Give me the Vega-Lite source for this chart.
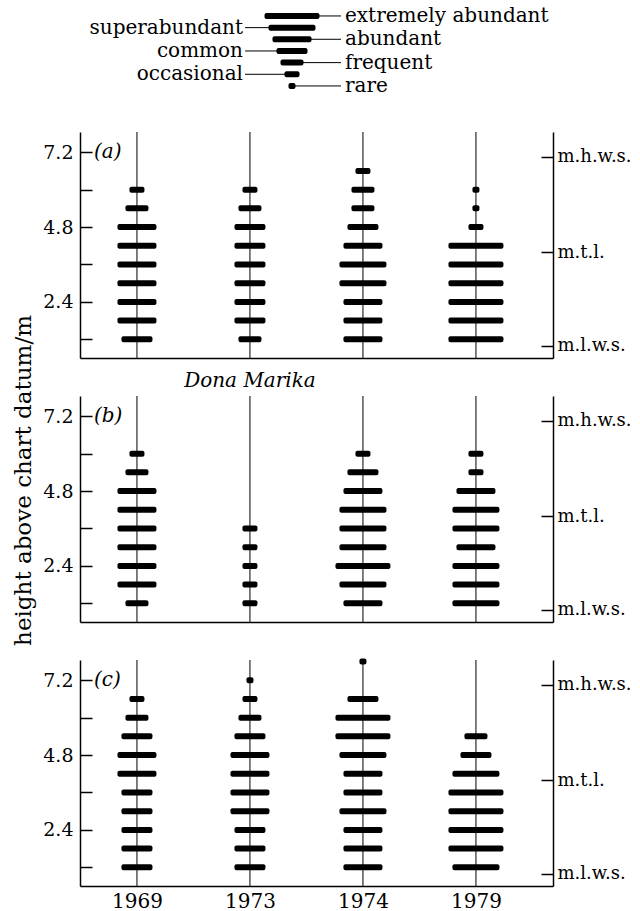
{
  "$schema": "https://vega.github.io/schema/vega-lite/v6.json",
  "padding": {"left": 12, "top": 5, "right": 0, "bottom": 0},
  "bounds": "flush",
  "spacing": 38,
  "config": {
    "view": {"stroke": null},
    "font": "DejaVu Serif",
    "text": {"font": "DejaVu Serif", "color": "black"},
    "axis": {"labelFont": "DejaVu Serif", "titleFont": "DejaVu Serif", "labelColor": "black", "titleColor": "black", "domainColor": "black", "tickColor": "black", "grid": false, "domainWidth": 1.5, "tickWidth": 1.5}
  },
  "datasets": {
    "years": [{"year": "1969"}, {"year": "1973"}, {"year": "1974"}, {"year": "1979"}],
    "legend": [
      {"level": 7, "label": "extremely abundant", "side": "right"},
      {"level": 6, "label": "superabundant", "side": "left"},
      {"level": 5, "label": "abundant", "side": "right"},
      {"level": 4, "label": "common", "side": "left"},
      {"level": 3, "label": "frequent", "side": "right"},
      {"level": 2, "label": "occasional", "side": "left"},
      {"level": 1, "label": "rare", "side": "right"}
    ],
    "obs": [
      {"panel": "a", "year": "1969", "height": 6.0, "level": 2},
      {"panel": "a", "year": "1969", "height": 5.4, "level": 3},
      {"panel": "a", "year": "1969", "height": 4.8, "level": 5},
      {"panel": "a", "year": "1969", "height": 4.2, "level": 5},
      {"panel": "a", "year": "1969", "height": 3.6, "level": 5},
      {"panel": "a", "year": "1969", "height": 3.0, "level": 5},
      {"panel": "a", "year": "1969", "height": 2.4, "level": 5},
      {"panel": "a", "year": "1969", "height": 1.8, "level": 5},
      {"panel": "a", "year": "1969", "height": 1.2, "level": 4},
      {"panel": "a", "year": "1973", "height": 6.0, "level": 2},
      {"panel": "a", "year": "1973", "height": 5.4, "level": 3},
      {"panel": "a", "year": "1973", "height": 4.8, "level": 4},
      {"panel": "a", "year": "1973", "height": 4.2, "level": 4},
      {"panel": "a", "year": "1973", "height": 3.6, "level": 4},
      {"panel": "a", "year": "1973", "height": 3.0, "level": 4},
      {"panel": "a", "year": "1973", "height": 2.4, "level": 4},
      {"panel": "a", "year": "1973", "height": 1.8, "level": 4},
      {"panel": "a", "year": "1973", "height": 1.2, "level": 3},
      {"panel": "a", "year": "1974", "height": 6.6, "level": 2},
      {"panel": "a", "year": "1974", "height": 6.0, "level": 3},
      {"panel": "a", "year": "1974", "height": 5.4, "level": 3},
      {"panel": "a", "year": "1974", "height": 4.8, "level": 4},
      {"panel": "a", "year": "1974", "height": 4.2, "level": 5},
      {"panel": "a", "year": "1974", "height": 3.6, "level": 6},
      {"panel": "a", "year": "1974", "height": 3.0, "level": 6},
      {"panel": "a", "year": "1974", "height": 2.4, "level": 5},
      {"panel": "a", "year": "1974", "height": 1.8, "level": 5},
      {"panel": "a", "year": "1974", "height": 1.2, "level": 5},
      {"panel": "a", "year": "1979", "height": 6.0, "level": 1},
      {"panel": "a", "year": "1979", "height": 5.4, "level": 1},
      {"panel": "a", "year": "1979", "height": 4.8, "level": 2},
      {"panel": "a", "year": "1979", "height": 4.2, "level": 7},
      {"panel": "a", "year": "1979", "height": 3.6, "level": 7},
      {"panel": "a", "year": "1979", "height": 3.0, "level": 7},
      {"panel": "a", "year": "1979", "height": 2.4, "level": 7},
      {"panel": "a", "year": "1979", "height": 1.8, "level": 7},
      {"panel": "a", "year": "1979", "height": 1.2, "level": 7},
      {"panel": "b", "year": "1969", "height": 6.0, "level": 2},
      {"panel": "b", "year": "1969", "height": 5.4, "level": 3},
      {"panel": "b", "year": "1969", "height": 4.8, "level": 5},
      {"panel": "b", "year": "1969", "height": 4.2, "level": 5},
      {"panel": "b", "year": "1969", "height": 3.6, "level": 5},
      {"panel": "b", "year": "1969", "height": 3.0, "level": 5},
      {"panel": "b", "year": "1969", "height": 2.4, "level": 5},
      {"panel": "b", "year": "1969", "height": 1.8, "level": 5},
      {"panel": "b", "year": "1969", "height": 1.2, "level": 3},
      {"panel": "b", "year": "1973", "height": 3.6, "level": 2},
      {"panel": "b", "year": "1973", "height": 3.0, "level": 2},
      {"panel": "b", "year": "1973", "height": 2.4, "level": 2},
      {"panel": "b", "year": "1973", "height": 1.8, "level": 2},
      {"panel": "b", "year": "1973", "height": 1.2, "level": 2},
      {"panel": "b", "year": "1974", "height": 6.0, "level": 2},
      {"panel": "b", "year": "1974", "height": 5.4, "level": 4},
      {"panel": "b", "year": "1974", "height": 4.8, "level": 5},
      {"panel": "b", "year": "1974", "height": 4.2, "level": 6},
      {"panel": "b", "year": "1974", "height": 3.6, "level": 6},
      {"panel": "b", "year": "1974", "height": 3.0, "level": 6},
      {"panel": "b", "year": "1974", "height": 2.4, "level": 7},
      {"panel": "b", "year": "1974", "height": 1.8, "level": 6},
      {"panel": "b", "year": "1974", "height": 1.2, "level": 5},
      {"panel": "b", "year": "1979", "height": 6.0, "level": 2},
      {"panel": "b", "year": "1979", "height": 5.4, "level": 2},
      {"panel": "b", "year": "1979", "height": 4.8, "level": 5},
      {"panel": "b", "year": "1979", "height": 4.2, "level": 6},
      {"panel": "b", "year": "1979", "height": 3.6, "level": 6},
      {"panel": "b", "year": "1979", "height": 3.0, "level": 5},
      {"panel": "b", "year": "1979", "height": 2.4, "level": 6},
      {"panel": "b", "year": "1979", "height": 1.8, "level": 6},
      {"panel": "b", "year": "1979", "height": 1.2, "level": 6},
      {"panel": "c", "year": "1969", "height": 6.6, "level": 2},
      {"panel": "c", "year": "1969", "height": 6.0, "level": 3},
      {"panel": "c", "year": "1969", "height": 5.4, "level": 4},
      {"panel": "c", "year": "1969", "height": 4.8, "level": 5},
      {"panel": "c", "year": "1969", "height": 4.2, "level": 5},
      {"panel": "c", "year": "1969", "height": 3.6, "level": 4},
      {"panel": "c", "year": "1969", "height": 3.0, "level": 4},
      {"panel": "c", "year": "1969", "height": 2.4, "level": 4},
      {"panel": "c", "year": "1969", "height": 1.8, "level": 4},
      {"panel": "c", "year": "1969", "height": 1.2, "level": 4},
      {"panel": "c", "year": "1973", "height": 7.2, "level": 1},
      {"panel": "c", "year": "1973", "height": 6.6, "level": 2},
      {"panel": "c", "year": "1973", "height": 6.0, "level": 3},
      {"panel": "c", "year": "1973", "height": 5.4, "level": 4},
      {"panel": "c", "year": "1973", "height": 4.8, "level": 5},
      {"panel": "c", "year": "1973", "height": 4.2, "level": 5},
      {"panel": "c", "year": "1973", "height": 3.6, "level": 5},
      {"panel": "c", "year": "1973", "height": 3.0, "level": 5},
      {"panel": "c", "year": "1973", "height": 2.4, "level": 4},
      {"panel": "c", "year": "1973", "height": 1.8, "level": 4},
      {"panel": "c", "year": "1973", "height": 1.2, "level": 4},
      {"panel": "c", "year": "1974", "height": 7.8, "level": 1},
      {"panel": "c", "year": "1974", "height": 6.6, "level": 4},
      {"panel": "c", "year": "1974", "height": 6.0, "level": 7},
      {"panel": "c", "year": "1974", "height": 5.4, "level": 7},
      {"panel": "c", "year": "1974", "height": 4.8, "level": 6},
      {"panel": "c", "year": "1974", "height": 4.2, "level": 5},
      {"panel": "c", "year": "1974", "height": 3.6, "level": 5},
      {"panel": "c", "year": "1974", "height": 3.0, "level": 6},
      {"panel": "c", "year": "1974", "height": 2.4, "level": 5},
      {"panel": "c", "year": "1974", "height": 1.8, "level": 5},
      {"panel": "c", "year": "1974", "height": 1.2, "level": 5},
      {"panel": "c", "year": "1979", "height": 5.4, "level": 3},
      {"panel": "c", "year": "1979", "height": 4.8, "level": 4},
      {"panel": "c", "year": "1979", "height": 4.2, "level": 6},
      {"panel": "c", "year": "1979", "height": 3.6, "level": 7},
      {"panel": "c", "year": "1979", "height": 3.0, "level": 7},
      {"panel": "c", "year": "1979", "height": 2.4, "level": 7},
      {"panel": "c", "year": "1979", "height": 1.8, "level": 7},
      {"panel": "c", "year": "1979", "height": 1.2, "level": 6}
    ]
  },
  "vconcat": [
    {
      "width": 424,
      "height": 89,
      "data": {"name": "legend"},
      "layer": [
        {
          "transform": [{"filter": "datum.side == 'right'"}],
          "mark": {"type": "rule", "color": "black", "strokeWidth": 1},
          "encoding": {
            "y": {"field": "level", "type": "quantitative", "scale": {"domain": [0.31, 7.94], "nice": false, "zero": false}, "axis": null},
            "x": {"datum": 0, "type": "quantitative", "scale": {"domain": [-4.24, 4.24], "nice": false, "zero": false}, "axis": null},
            "x2": {"datum": 0.98}
          }
        },
        {
          "transform": [{"filter": "datum.side == 'left'"}],
          "mark": {"type": "rule", "color": "black", "strokeWidth": 1},
          "encoding": {
            "y": {"field": "level", "type": "quantitative", "axis": null},
            "x": {"datum": -0.94, "type": "quantitative", "axis": null},
            "x2": {"datum": 0}
          }
        },
        {
          "mark": {"type": "tick", "orient": "horizontal", "thickness": 6, "cornerRadius": 2, "color": "black", "opacity": 1},
          "encoding": {
            "y": {"field": "level", "type": "quantitative", "axis": null},
            "x": {"datum": 0, "type": "quantitative", "axis": null},
            "size": {"field": "level", "type": "quantitative", "scale": {"domain": [1, 7], "range": [7, 55]}, "legend": null}
          }
        },
        {
          "transform": [{"filter": "datum.side == 'right'"}],
          "mark": {"type": "text", "align": "left", "baseline": "middle", "fontSize": 20},
          "encoding": {
            "y": {"field": "level", "type": "quantitative", "axis": null},
            "x": {"datum": 1.06, "type": "quantitative", "axis": null},
            "text": {"field": "label"}
          }
        },
        {
          "transform": [{"filter": "datum.side == 'left'"}],
          "mark": {"type": "text", "align": "right", "baseline": "middle", "fontSize": 20},
          "encoding": {
            "y": {"field": "level", "type": "quantitative", "axis": null},
            "x": {"datum": -0.98, "type": "quantitative", "axis": null},
            "text": {"field": "label"}
          }
        }
      ]
    },
    {
      "width": 473,
      "height": 226,
      "layer": [
        {
          "data": {"name": "years"},
          "mark": {"type": "rule", "color": "black", "strokeWidth": 1},
          "encoding": {
            "x": {"field": "year", "type": "ordinal", "scale": {"type": "point", "padding": 0.593, "align": 0.425},
                  "axis": {"title": null, "labels": false, "ticks": false, "domainWidth": 1.5}}
          }
        },
        {
          "data": {"name": "obs"},
          "transform": [{"filter": "datum.panel == 'a'"}],
          "mark": {"type": "tick", "orient": "horizontal", "thickness": 6, "cornerRadius": 2, "color": "black", "opacity": 1},
          "encoding": {
            "x": {"field": "year", "type": "ordinal"},
            "y": {"field": "height", "type": "quantitative", "scale": {"domain": [0.6, 7.85], "nice": false, "zero": false},
                  "axis": {"title": null, "values": [1.2, 2.4, 3.6, 4.8, 6.0, 7.2], "labelExpr": "(datum.value == 2.4 || datum.value == 4.8 || datum.value == 7.2) ? format(datum.value, '.1f') : ''", "tickSize": -12, "labelPadding": 19, "labelFontSize": 19}},
            "size": {"field": "level", "type": "quantitative", "scale": {"domain": [1, 7], "range": [7, 55]}, "legend": null}
          }
        },
        {
          "data": {"values": [{"label": "(a)"}]},
          "mark": {"type": "text", "align": "left", "baseline": "middle", "fontSize": 20, "fontStyle": "italic", "dx": -43},
          "encoding": {
            "x": {"datum": "1969", "type": "ordinal"},
            "y": {"datum": 7.2, "type": "quantitative", "axis": null},
            "text": {"field": "label"}
          }
        },
        {
          "data": {"values": [{"label": "tide"}]},
          "mark": {"type": "point", "opacity": 0},
          "encoding": {
            "y": {"datum": 4.0, "type": "quantitative",
                  "axis": {"orient": "right", "title": null, "values": [1.0, 4.0, 7.05], "labelExpr": "datum.value < 2 ? 'm.l.w.s.' : datum.value < 5 ? 'm.t.l.' : 'm.h.w.s.'", "tickSize": -12, "labelPadding": 16, "labelFontSize": 18}}
          }
        }
      ],
      "resolve": {"axis": {"y": "independent"}}
    },
    {
      "width": 473,
      "height": 226,
      "layer": [
        {
          "data": {"name": "years"},
          "mark": {"type": "rule", "color": "black", "strokeWidth": 1},
          "encoding": {
            "x": {"field": "year", "type": "ordinal", "scale": {"type": "point", "padding": 0.593, "align": 0.425},
                  "axis": {"title": null, "labels": false, "ticks": false, "domainWidth": 1.5}}
          }
        },
        {
          "data": {"name": "obs"},
          "transform": [{"filter": "datum.panel == 'b'"}],
          "mark": {"type": "tick", "orient": "horizontal", "thickness": 6, "cornerRadius": 2, "color": "black", "opacity": 1},
          "encoding": {
            "x": {"field": "year", "type": "ordinal"},
            "y": {"field": "height", "type": "quantitative", "scale": {"domain": [0.6, 7.85], "nice": false, "zero": false},
                  "axis": {"title": "height above chart datum/m", "titleFontSize": 23, "titleFontWeight": "normal", "titlePadding": 7, "titleY": 84, "values": [1.2, 2.4, 3.6, 4.8, 6.0, 7.2], "labelExpr": "(datum.value == 2.4 || datum.value == 4.8 || datum.value == 7.2) ? format(datum.value, '.1f') : ''", "tickSize": -12, "labelPadding": 19, "labelFontSize": 19}},
            "size": {"field": "level", "type": "quantitative", "scale": {"domain": [1, 7], "range": [7, 55]}, "legend": null}
          }
        },
        {
          "data": {"values": [{"label": "(b)"}]},
          "mark": {"type": "text", "align": "left", "baseline": "middle", "fontSize": 20, "fontStyle": "italic", "dx": -43},
          "encoding": {
            "x": {"datum": "1969", "type": "ordinal"},
            "y": {"datum": 7.2, "type": "quantitative", "axis": null},
            "text": {"field": "label"}
          }
        },
        {
          "data": {"values": [{"label": "Dona Marika"}]},
          "mark": {"type": "text", "align": "center", "baseline": "middle", "fontSize": 20, "fontStyle": "italic"},
          "encoding": {
            "x": {"datum": "1973", "type": "ordinal"},
            "y": {"datum": 8.33, "type": "quantitative", "axis": null},
            "text": {"field": "label"}
          }
        },
        {
          "data": {"values": [{"label": "tide"}]},
          "mark": {"type": "point", "opacity": 0},
          "encoding": {
            "y": {"datum": 4.0, "type": "quantitative",
                  "axis": {"orient": "right", "title": null, "values": [1.0, 4.0, 7.05], "labelExpr": "datum.value < 2 ? 'm.l.w.s.' : datum.value < 5 ? 'm.t.l.' : 'm.h.w.s.'", "tickSize": -12, "labelPadding": 16, "labelFontSize": 18}}
          }
        }
      ],
      "resolve": {"axis": {"y": "independent"}}
    },
    {
      "width": 473,
      "height": 226,
      "layer": [
        {
          "data": {"name": "years"},
          "mark": {"type": "rule", "color": "black", "strokeWidth": 1},
          "encoding": {
            "x": {"field": "year", "type": "ordinal", "scale": {"type": "point", "padding": 0.593, "align": 0.425},
                  "axis": {"title": null, "labels": true, "ticks": false, "tickSize": 0, "labelAngle": 0, "labelFontSize": 20, "labelPadding": 5, "domainWidth": 1.5}}
          }
        },
        {
          "data": {"name": "obs"},
          "transform": [{"filter": "datum.panel == 'c'"}],
          "mark": {"type": "tick", "orient": "horizontal", "thickness": 6, "cornerRadius": 2, "color": "black", "opacity": 1},
          "encoding": {
            "x": {"field": "year", "type": "ordinal"},
            "y": {"field": "height", "type": "quantitative", "scale": {"domain": [0.6, 7.85], "nice": false, "zero": false},
                  "axis": {"title": null, "values": [1.2, 2.4, 3.6, 4.8, 6.0, 7.2], "labelExpr": "(datum.value == 2.4 || datum.value == 4.8 || datum.value == 7.2) ? format(datum.value, '.1f') : ''", "tickSize": -12, "labelPadding": 19, "labelFontSize": 19}},
            "size": {"field": "level", "type": "quantitative", "scale": {"domain": [1, 7], "range": [7, 55]}, "legend": null}
          }
        },
        {
          "data": {"values": [{"label": "(c)"}]},
          "mark": {"type": "text", "align": "left", "baseline": "middle", "fontSize": 20, "fontStyle": "italic", "dx": -43},
          "encoding": {
            "x": {"datum": "1969", "type": "ordinal"},
            "y": {"datum": 7.2, "type": "quantitative", "axis": null},
            "text": {"field": "label"}
          }
        },
        {
          "data": {"values": [{"label": "tide"}]},
          "mark": {"type": "point", "opacity": 0},
          "encoding": {
            "y": {"datum": 4.0, "type": "quantitative",
                  "axis": {"orient": "right", "title": null, "values": [1.0, 4.0, 7.05], "labelExpr": "datum.value < 2 ? 'm.l.w.s.' : datum.value < 5 ? 'm.t.l.' : 'm.h.w.s.'", "tickSize": -12, "labelPadding": 16, "labelFontSize": 18}}
          }
        }
      ],
      "resolve": {"axis": {"y": "independent"}}
    }
  ]
}
